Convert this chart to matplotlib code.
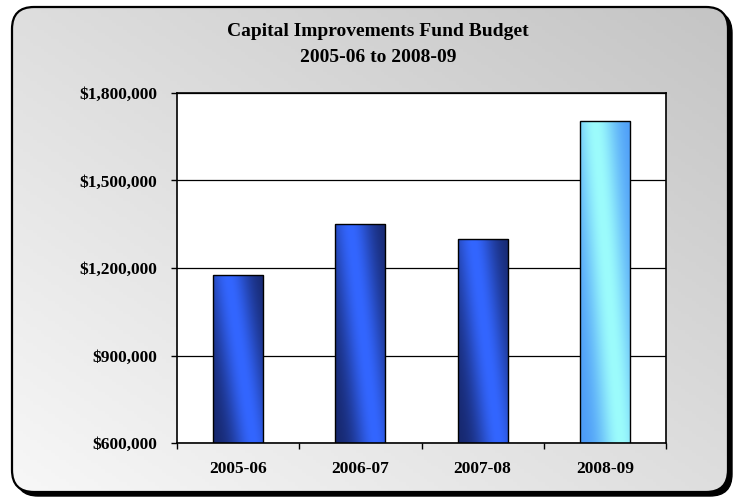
import numpy as np
import matplotlib
matplotlib.use('Agg')
import matplotlib.pyplot as plt
from matplotlib.patches import FancyBboxPatch
from matplotlib.colors import to_rgb
from matplotlib.ticker import FuncFormatter

# chart data
years = ['2005-06', '2006-07', '2007-08', '2008-09']
budget = [1175000, 1350000, 1298000, 1703000]
y_ticks = [600000, 900000, 1200000, 1500000, 1800000]
title_lines = ['Capital Improvements Fund Budget', '2005-06 to 2008-09']

W, H = 739, 498
fig = plt.figure(figsize=(W / 100, H / 100), dpi=100)
fig.patch.set_facecolor('white')
font = 'Liberation Serif'

# background panel (pixel coordinates)
bg = fig.add_axes([0, 0, 1, 1], zorder=0)
bg.set_xlim(0, W)
bg.set_ylim(H, 0)
bg.axis('off')

shadow = FancyBboxPatch((16, 11), 716, 485, boxstyle='round,pad=0,rounding_size=22',
                        fc='black', ec='black', lw=1)
bg.add_patch(shadow)
frame = FancyBboxPatch((12, 7), 716, 485, boxstyle='round,pad=0,rounding_size=22',
                       fc='none', ec='black', lw=1.6, zorder=3)
bg.add_patch(frame)
gx, gy = np.meshgrid(np.linspace(0, 1, 200), np.linspace(0, 1, 150))
# row 0 = top; light at bottom-left, darker at top-right
t = np.clip((gx + (1 - gy)) / 2, 0, 1)
c0, c1 = np.array([0.97, 0.97, 0.97]), np.array([0.77, 0.77, 0.77])
grad = c0 + (c1 - c0) * t[..., None]
im = bg.imshow(grad, extent=(12, 728, 492, 7), zorder=2, aspect='auto')
clip = FancyBboxPatch((12, 7), 716, 485, boxstyle='round,pad=0,rounding_size=22',
                      fc='none', ec='none', transform=bg.transData)
im.set_clip_path(clip)

for i, line in enumerate(title_lines):
    fig.text(378 / W, 1 - (32 + i * 25) / H, line, ha='center', va='center',
             fontsize=14, fontweight='bold', family=font)

# main plot
ax = fig.add_axes([177 / W, 1 - 443 / H, (666 - 177) / W, (443 - 93) / H], zorder=1)
ax.set_facecolor('white')
x = np.arange(len(years))
bw = 0.41
bars = ax.bar(x, budget, width=bw, color='none', edgecolor='black', lw=1, zorder=3)
ax.set_xlim(-0.5, len(years) - 0.5)
ax.set_ylim(y_ticks[0], y_ticks[-1])
ax.set_yticks(y_ticks)
ax.yaxis.set_major_formatter(FuncFormatter(lambda v, p: '${:,.0f}'.format(v)))
ax.grid(axis='y', color='black', lw=0.9, zorder=1)
ax.set_axisbelow(True)

# gradient fills for bars (diagonal bright band)
u, v = np.meshgrid(np.linspace(0, 1, 60), np.linspace(0, 1, 120))
for i, b in enumerate(bars):
    if i < 3:
        dark, bright = np.array(to_rgb('#16266a')), np.array(to_rgb('#3366ff'))
    else:
        dark, bright = np.array(to_rgb('#4a98f8')), np.array(to_rgb('#9cfcfc'))
    cen = 0.8 - 0.5 * v
    k = np.exp(-((u - cen) / 0.42) ** 2)
    img = dark + (bright - dark) * k[..., None]
    x0 = b.get_x()
    g = ax.imshow(img, extent=(x0, x0 + b.get_width(), y_ticks[0], b.get_height()),
                  origin='lower', aspect='auto', zorder=2)
    g.set_clip_path(b)
ax.set_xlim(-0.5, len(years) - 0.5)
ax.set_ylim(y_ticks[0], y_ticks[-1])

for s in ax.spines.values():
    s.set_color('black')
    s.set_linewidth(1.2)

ax.set_xticks(np.arange(len(years) + 1) - 0.5)
ax.set_xticklabels([])
ax.set_xticks(x, minor=True)
ax.set_xticklabels(years, minor=True)
ax.tick_params(axis='x', which='major', length=4, width=1, direction='out')
ax.tick_params(axis='x', which='minor', length=0, pad=13)
ax.tick_params(axis='y', length=4, width=1, pad=10)
for lab in ax.get_xticklabels(minor=True) + ax.get_yticklabels():
    lab.set_fontfamily(font)
    lab.set_fontweight('bold')
    lab.set_fontsize(12.5)

fig.savefig('out.png', dpi=100)
